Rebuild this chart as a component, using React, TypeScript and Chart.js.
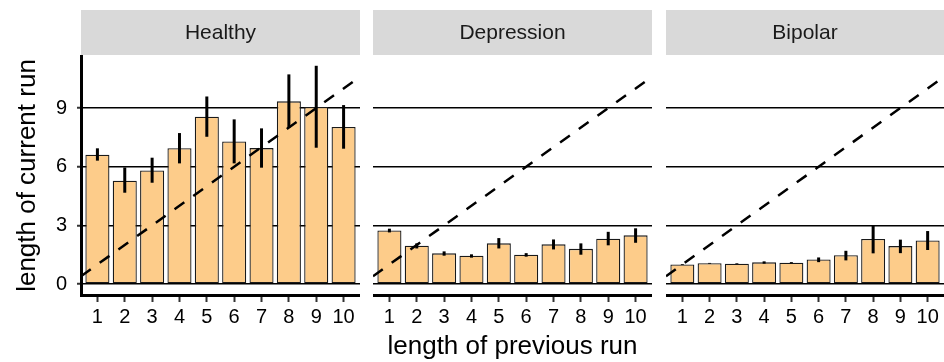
import React, { useEffect, useRef } from "react";
import { Chart, registerables } from "chart.js";

Chart.register(...registerables);
Chart.defaults.font.family = '"Liberation Sans", Arial, Helvetica, sans-serif';

// Length of previous run (x categories, shared by all panels)
const runLengths = [1, 2, 3, 4, 5, 6, 7, 8, 9, 10];

// Mean length of current run with lower/upper error limits, per group
const healthyMean = [6.61, 5.28, 5.81, 6.94, 8.56, 7.29, 6.95, 9.34, 9.05, 8.03];
const healthyLow = [6.31, 4.67, 5.18, 6.17, 7.53, 6.17, 5.95, 7.98, 6.97, 6.92];
const healthyHigh = [6.94, 5.96, 6.46, 7.72, 9.59, 8.42, 7.96, 10.72, 11.16, 9.15];

const depressionMean = [2.74, 1.96, 1.57, 1.45, 2.08, 1.5, 2.03, 1.8, 2.32, 2.49];
const depressionLow = [2.64, 1.82, 1.45, 1.35, 1.82, 1.4, 1.77, 1.5, 1.98, 2.11];
const depressionHigh = [2.83, 2.08, 1.67, 1.52, 2.35, 1.58, 2.28, 2.08, 2.67, 2.85];

const bipolarMean = [1.0, 1.06, 1.04, 1.11, 1.09, 1.26, 1.47, 2.3, 1.94, 2.23];
const bipolarLow = [0.98, 1.04, 1.02, 1.04, 1.06, 1.12, 1.21, 1.57, 1.58, 1.74];
const bipolarHigh = [1.02, 1.08, 1.06, 1.16, 1.12, 1.36, 1.7, 2.97, 2.27, 2.71];

// Axis ticks and limits
const yTicks = [0, 3, 6, 9];
const xLimits = [0.4, 10.6];
const yLimits = [-0.56, 11.66];

// Identity reference line (current run = previous run)
const identityLine = [0.4, 10.6];

const groupNames = ["Healthy", "Depression", "Bipolar"];
const groupMeans = [healthyMean, depressionMean, bipolarMean];
const groupLows = [healthyLow, depressionLow, bipolarLow];
const groupHighs = [healthyHigh, depressionHigh, bipolarHigh];

const panelLefts = [0, 373, 666];
const panelWidths = [360, 279, 278];
const HEIGHT = 362;

const stripPlugin = {
  id: "facetStrip",
  beforeDraw(chart: any, _args: any, opts: any) {
    const { ctx, chartArea } = chart;
    const top = chartArea.top - 46;
    const h = 45;
    ctx.save();
    ctx.fillStyle = "#D9D9D9";
    ctx.fillRect(chartArea.left, top, chartArea.right - chartArea.left, h);
    ctx.fillStyle = "#1A1A1A";
    ctx.font = '21px "Liberation Sans", Arial, Helvetica, sans-serif';
    ctx.textAlign = "center";
    ctx.textBaseline = "middle";
    ctx.fillText(opts.text, (chartArea.left + chartArea.right) / 2, top + h / 2 + 1);
    ctx.restore();
  },
};

function Panel({ index }: { index: number }) {
  const ref = useRef<HTMLCanvasElement>(null);

  useEffect(() => {
    const first = index === 0;
    const means = groupMeans[index];
    const lows = groupLows[index];
    const highs = groupHighs[index];

    const chart = new Chart(ref.current as HTMLCanvasElement, {
      type: "bar",
      data: {
        datasets: [
          {
            type: "line",
            data: identityLine.map((v) => ({ x: v, y: v })),
            borderColor: "#000",
            borderWidth: 2.5,
            borderDash: [12, 11],
            pointRadius: 0,
            fill: false,
            order: 0,
          } as any,
          {
            type: "bar",
            data: runLengths.map((x, i) => ({ x, y: [lows[i], highs[i]] })),
            backgroundColor: "#000",
            borderWidth: 0,
            grouped: false,
            maxBarThickness: 3,
            order: 1,
          } as any,
          {
            type: "bar",
            data: runLengths.map((x, i) => ({ x, y: means[i] })),
            backgroundColor: "#FDCC8A",
            borderColor: "#1A1A1A",
            borderWidth: 1.3,
            borderSkipped: false,
            grouped: false,
            barPercentage: 0.88,
            categoryPercentage: 1,
            order: 2,
          } as any,
        ],
      },
      options: {
        responsive: false,
        animation: false,
        layout: { padding: { top: 56, left: 0, right: 0, bottom: 0 } },
        plugins: {
          legend: { display: false },
          tooltip: { enabled: false },
          facetStrip: { text: groupNames[index] },
        } as any,
        scales: {
          x: {
            type: "linear",
            min: xLimits[0],
            max: xLimits[1],
            offset: false,
            afterBuildTicks: (s: any) => {
              s.ticks = runLengths.map((v) => ({ value: v }));
            },
            afterFit: (s: any) => {
              s.height = HEIGHT - 295;
            },
            grid: {
              display: true,
              drawOnChartArea: false,
              drawTicks: true,
              tickLength: 7,
              tickColor: "#333",
              tickWidth: 2,
              offset: false,
            },
            border: { display: true, color: "#000", width: 3 },
            ticks: {
              color: "#000",
              font: { size: 20 },
              padding: 3,
              maxRotation: 0,
              autoSkip: false,
            },
            title: {
              display: index === 1,
              text: "length of previous run",
              color: "#000",
              font: { size: 26 },
              padding: 0,
            },
          },
          y: {
            type: "linear",
            min: yLimits[0],
            max: yLimits[1],
            afterBuildTicks: (s: any) => {
              s.ticks = yTicks.map((v) => ({ value: v }));
            },
            afterFit: (s: any) => {
              s.width = first ? 81 : 0;
            },
            grid: {
              color: "#000",
              lineWidth: 1.5,
              drawTicks: first,
              tickLength: 4,
              tickColor: "#333",
              tickWidth: 2,
            },
            border: { display: first, color: "#000", width: 3 },
            ticks: {
              display: first,
              color: "#000",
              font: { size: 20 },
              padding: 10,
            },
            title: {
              display: first,
              text: "length of current run",
              color: "#000",
              font: { size: 26 },
              padding: { top: 12, bottom: 0 },
            },
          },
        },
      } as any,
      plugins: [stripPlugin],
    });
    return () => chart.destroy();
  }, [index]);

  return (
    <canvas
      ref={ref}
      width={panelWidths[index]}
      height={HEIGHT}
      style={{
        position: "absolute",
        left: panelLefts[index],
        top: 0,
        width: panelWidths[index],
        height: HEIGHT,
      }}
    />
  );
}

export default function App() {
  return (
    <div
      style={{
        position: "absolute",
        left: 0,
        top: 0,
        width: 944,
        height: HEIGHT,
        background: "#fff",
        overflow: "hidden",
      }}
    >
      {groupNames.map((_, i) => (
        <Panel key={i} index={i} />
      ))}
    </div>
  );
}
